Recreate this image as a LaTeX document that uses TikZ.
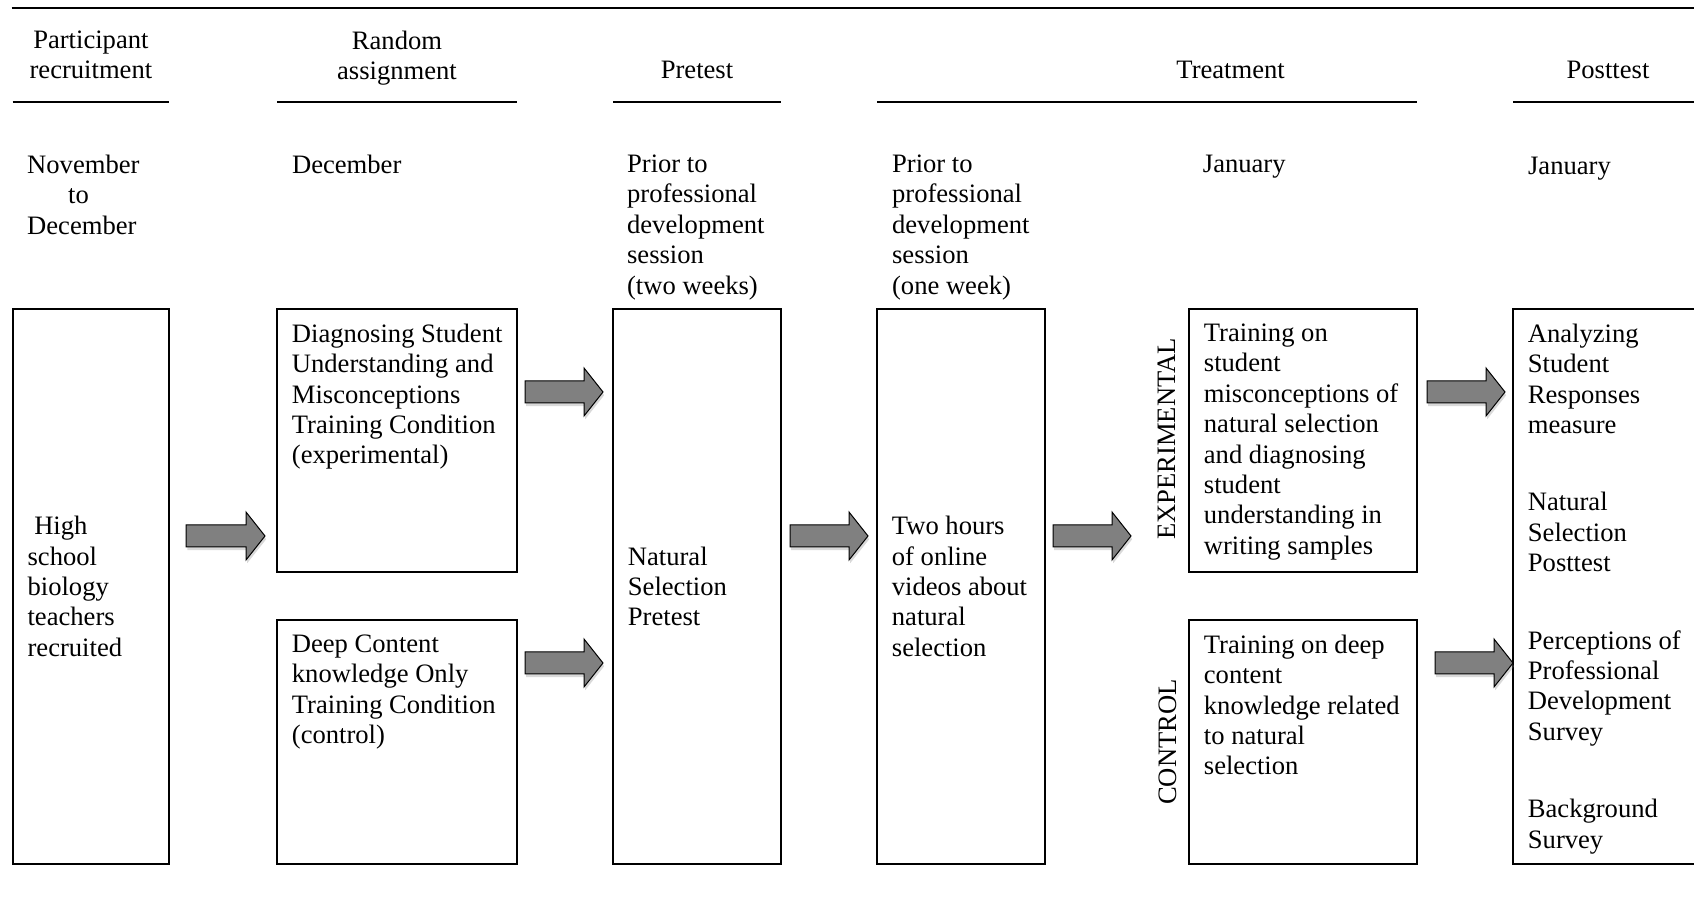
\documentclass[tikz,border=0pt]{standalone}
\usepackage{fontspec}
\setmainfont{Liberation Serif}
\usetikzlibrary{positioning, calc, shadows}

% gray block arrow from #1 to #2 (same height)
\newcommand{\blockarrow}[2]{%
  \draw[flow] ($(#1)+(0,-11)$) -- ($(#2)+(-19,-11)$) -- ($(#2)+(-19,-24)$) -- (#2)
    -- ($(#2)+(-19,24)$) -- ($(#2)+(-19,11)$) -- ($(#1)+(0,11)$) -- cycle;}

\begin{document}
\begin{tikzpicture}[
    x=0.5pt, y=-0.5pt,
    every node/.style={font=\fontsize{13.3}{15.2}\selectfont, inner sep=0pt},
    stage/.style={draw, line width=0.9pt, outer sep=0pt, anchor=north west},
    inside/.style={anchor=north west, align=left},
    middle/.style={anchor=west, align=left},
    head/.style={anchor=north, align=center},
    when/.style={anchor=north west, align=left},
    group/.style={rotate=90},
    rule/.style={line width=0.9pt},
    flow/.style={draw=black, line width=0.5pt, fill=black!50,
                 drop shadow={shadow xshift=0.6pt, shadow yshift=-1.6pt, opacity=0.3}}
  ]
  \useasboundingbox (0,0) rectangle (1694,908);
  \clip (0,0) rectangle (1694,908);

  % boxes
  \node[stage, minimum width=78.2pt, minimum height=277.5pt] (recruit) at (12.7,309) {};
  \node[stage, minimum width=120pt, minimum height=131.5pt] (diag) at (277,309) {};
  \node[stage, minimum width=120pt, minimum height=122pt] (deep) at (277,620) {};
  \node[stage, minimum width=84pt, minimum height=277.5pt] (pretest) at (613,309) {};
  \node[stage, minimum width=84pt, minimum height=277.5pt] (videos) at (877,309) {};
  \node[stage, minimum width=114pt, minimum height=131.5pt] (exptrain) at (1189,309) {};
  \node[stage, minimum width=114pt, minimum height=122pt] (ctltrain) at (1189,620) {};
  \node[stage, minimum width=110pt, minimum height=277.5pt] (posttest) at (1513,309) {};

  % box texts
  \node[middle] (recruit-t) at ($(recruit.west)+(14.5,0)$) {\ High\\school\\biology\\teachers\\recruited};
  \node[inside] (diag-t) at ($(diag.north west)+(14.5,14.5)$)
    {Diagnosing Student\\Understanding and\\Misconceptions\\Training Condition\\(experimental)};
  \node[inside] (deep-t) at ($(deep.north west)+(14.5,14.5)$)
    {Deep Content\\knowledge Only\\Training Condition\\(control)};
  \node[middle] (pretest-t) at ($(pretest.west)+(14.5,0)$) {Natural\\Selection\\Pretest};
  \node[middle] (videos-t) at ($(videos.west)+(14.5,0)$) {Two hours\\of online\\videos about\\natural\\selection};
  \node[inside] (exptrain-t) at ($(exptrain.north west)+(14.5,14.5)$)
    {Training on\\student\\misconceptions of\\natural selection\\and diagnosing\\student\\understanding in\\writing samples};
  \node[inside] (ctltrain-t) at ($(ctltrain.north west)+(14.5,14.5)$)
    {Training on deep\\content\\knowledge related\\to natural\\selection};
  \node[inside] (posttest-t) at ($(posttest.north west)+(14.5,14.5)$)
    {Analyzing\\Student\\Responses\\measure\\[23.5pt]Natural\\Selection\\Posttest\\[23.5pt]%
     Perceptions of\\Professional\\Development\\Survey\\[23.5pt]Background\\Survey};

  \node[group] (exp-l) at ($(exptrain.west)+(-22,-1.5)$) {EXPERIMENTAL};
  \node[group] (ctl-l) at ($(ctltrain.west)+(-21.5,0)$) {CONTROL};

  % headings
  \draw[line width=1.1pt] (11.5,7.7) -- (1694,7.7);
  \node[head] (h-recruit) at (recruit.north |- 0,30.4) {Participant\\recruitment};
  \node[head] (h-random) at (diag.north |- 0,30.4) {Random\\assignment};
  \node[head] (h-pretest) at (pretest.north |- 0,60.4) {Pretest};
  \node[head] (h-treat) at (1230.6,60.4) {Treatment};
  \node[head] (h-post) at (1608,60.4) {Posttest};

  \draw[rule] (recruit.west |- 0,101.7) -- (recruit.east |- 0,101.7);
  \draw[rule] (diag.west |- 0,101.7) -- (diag.east |- 0,101.7);
  \draw[rule] (pretest.west |- 0,101.7) -- (pretest.east |- 0,101.7);
  \draw[rule] (videos.west |- 0,101.7) -- (exptrain.east |- 0,101.7);
  \draw[rule] (posttest.west |- 0,101.7) -- (1694,101.7);

  % dates
  \node[when] (d-recruit) at (26.8,154.4) {November\\\hspace*{20.5pt}to\\December};
  \node[when] (d-random) at ($(diag.north west)+(14.7,-154.6)$) {December};
  \node[when] (d-pretest) at ($(pretest.north west)+(13.7,-154.6)$)
    {Prior to\\professional\\development\\session\\(two weeks)};
  \node[when] (d-videos) at ($(videos.north west)+(14.7,-154.6)$)
    {Prior to\\professional\\development\\session\\(one week)};
  \node[when] (d-treat) at ($(exptrain.north west)+(13.5,-154.6)$) {January};
  \node[when] (d-post) at ($(posttest.north west)+(14.7,-152.6)$) {January};

  % arrows
  \coordinate (a1s) at ($(recruit.east)+(17,-50.5)$);
  \coordinate (a1t) at ($(diag.west)+(-12,95.5)$);
  \coordinate (a2s) at ($(diag.east)+(8,-48.5)$);
  \coordinate (a2t) at ($(pretest.west)+(-10,-194.5)$);
  \coordinate (a3s) at ($(deep.east)+(8,-79)$);
  \coordinate (a3t) at ($(pretest.west)+(-10,76.5)$);
  \coordinate (a4s) at ($(pretest.east)+(9,-50.5)$);
  \coordinate (a4t) at ($(videos.west)+(-9,-50.5)$);
  \coordinate (a5s) at ($(videos.east)+(8,-50.5)$);
  \coordinate (a5t) at ($(exptrain.west)+(-58,95.5)$);
  \coordinate (a6s) at ($(exptrain.east)+(10,-48.5)$);
  \coordinate (a6t) at ($(posttest.west)+(-8,-194.5)$);
  \coordinate (a7s) at ($(ctltrain.east)+(18,-79)$);
  \coordinate (a7t) at ($(posttest.west)+(0,76.5)$);
  \blockarrow{a1s}{a1t}
  \blockarrow{a2s}{a2t}
  \blockarrow{a3s}{a3t}
  \blockarrow{a4s}{a4t}
  \blockarrow{a5s}{a5t}
  \blockarrow{a6s}{a6t}
  \blockarrow{a7s}{a7t}
\end{tikzpicture}
\end{document}
